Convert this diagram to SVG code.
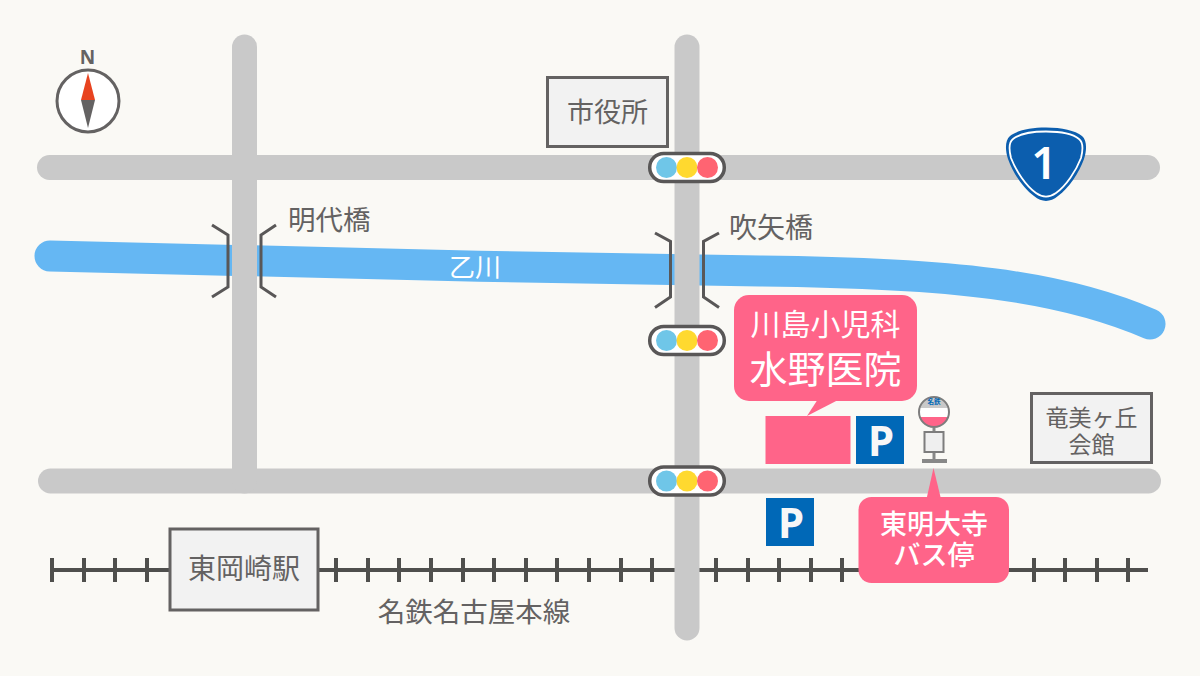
<svg xmlns="http://www.w3.org/2000/svg" width="1200" height="676" viewBox="0 0 1200 676">
<style>
.road{stroke:#c9c9c9;stroke-width:25;stroke-linecap:round;fill:none}
.t{font-family:"Noto Sans CJK JP","Noto Sans",sans-serif;fill:#646262}
.w{font-family:"Noto Sans CJK JP","Noto Sans",sans-serif;fill:#fff}
.box{fill:#f2f2f2;stroke:#646262;stroke-width:3}
.sig{fill:#fff;stroke:#595757;stroke-width:3.5}
.br{fill:none;stroke:#595757;stroke-width:3}
.pk{fill:#ff6489}
.pb{fill:#0068b7}
.tick{stroke:#4f4f4d;stroke-width:4}
</style>
<defs>
<g id="signal"><rect class="sig" x="-37.300" y="-14" width="74.600" height="28" rx="14"/><circle cx="-20.500" r="10.500" fill="#6fc6e8"/><circle cx="0" r="10.500" fill="#ffd92f"/><circle cx="20.500" r="10.500" fill="#ff6472"/></g>
<g id="parking"><rect class="pb" x="0" y="0" width="48" height="48"/><text x="25" y="40" text-anchor="middle" font-family="Noto Sans,sans-serif" font-weight="700" font-size="42" fill="#f7f7f7">P</text></g>
<clipPath id="stopface"><circle cx="934" cy="412" r="15"/></clipPath>
</defs>
<rect width="1200" height="676" fill="#faf9f5"/>
<g id="river"><path d="M50 256 C300 262 520 268 760 271 C950 273 1060 285 1150 324" fill="none" stroke="#65b7f3" stroke-width="31" stroke-linecap="round"/><text x="475" y="277" text-anchor="middle" class="w" font-size="26">乙川</text></g>
<g id="railway">
<path d="M52 570H1148" stroke="#4f4f4d" stroke-width="4" fill="none"/>
<path class="tick" d="M52 558V582M84 558V582M115 558V582M147 558V582M336 558V582M368 558V582M399 558V582M431 558V582M463 558V582M494 558V582M526 558V582M557 558V582M589 558V582M621 558V582M652 558V582M684 558V582M716 558V582M748 558V582M779 558V582M811 558V582M842 558V582M1034 558V582M1065 558V582M1097 558V582M1128 558V582"/>
</g>
<g id="roads">
<path class="road" d="M49.500 167.500H1147.500"/>
<path class="road" d="M50.500 481H1148.500"/>
<path class="road" d="M244.500 47V481"/>
<path class="road" d="M687 47V628"/>
</g>
<g id="bridge-left"><path class="br" d="M212 225L228 235V287L212 297M276 225L261 235V287L276 297"/><text x="288" y="230" class="t" font-size="27.500">明代橋</text></g>
<g id="bridge-right"><path class="br" d="M655 233L670.500 241.500V297L655 307.500M719 233L703.500 241.500V297L719 307.500"/><text x="729" y="238" class="t" font-size="28">吹矢橋</text></g>
<g id="signal-1"><use href="#signal" x="687" y="167.500"/></g>
<g id="signal-2"><use href="#signal" x="687" y="340.500"/></g>
<g id="signal-3"><use href="#signal" x="687" y="481"/></g>
<g id="compass"><text x="87.500" y="64" text-anchor="middle" font-family="Noto Sans,sans-serif" font-weight="700" font-size="19" fill="#646262">N</text><circle cx="88" cy="101" r="31" fill="#fff" stroke="#646262" stroke-width="3"/><path d="M88 73L95 100H81Z" fill="#e8431f"/><path d="M81 100H95L88 128Z" fill="#646262"/></g>
<g id="city-hall"><rect class="box" x="547.500" y="77.500" width="120" height="69"/><text x="607.500" y="122" text-anchor="middle" class="t" font-size="27">市役所</text></g>
<g id="route-1"><path d="M1046 127.500C1062 127.500 1075 130.500 1082 136C1087 140 1087 150 1084 159C1079 173 1069 188 1058 196C1050 202.500 1042 202.500 1034 196C1023 188 1013 173 1008 159C1005 150 1005 140 1010 136C1017 130.500 1030 127.500 1046 127.500Z" fill="#0c5eae"/><path d="M1046 131.500C1061 131.500 1073 134 1079 139C1083 142 1083 150 1081 158C1076 171 1066 186 1056 193C1049 198 1043 198 1036 193C1026 186 1016 171 1011 158C1009 150 1009 142 1013 139C1019 134 1031 131.500 1046 131.500Z" fill="none" stroke="#fff" stroke-width="1.800"/><text x="1044" y="179" text-anchor="middle" font-family="Noto Sans,sans-serif" font-weight="600" font-size="45" fill="#fff">1</text></g>
<g id="clinic-label"><rect x="734" y="295" width="183" height="106" rx="15" class="pk"/><path d="M818 399H840L807 416Z" class="pk"/><text x="825.500" y="335" text-anchor="middle" class="w" font-size="30">川島小児科</text><text x="825.500" y="383" text-anchor="middle" class="w" font-size="38">水野医院</text></g>
<g id="clinic"><rect x="765.500" y="416" width="85" height="48" class="pk"/></g>
<g id="parking-1"><use href="#parking" x="856" y="416"/></g>
<g id="parking-2"><use href="#parking" x="766" y="498"/></g>
<g id="bus-stop"><path d="M934 428V460" stroke="#888" stroke-width="3"/><rect x="922" y="459" width="25" height="4" fill="#888"/><g clip-path="url(#stopface)"><rect x="917" y="396" width="34" height="12" fill="#c9c9c9"/><rect x="917" y="408" width="34" height="9" fill="#fff"/><rect x="917" y="417" width="34" height="12" class="pk"/></g><circle cx="934" cy="412" r="15" fill="none" stroke="#7d7d7d" stroke-width="2"/><text x="934" y="404" text-anchor="middle" font-family="Noto Sans CJK JP,sans-serif" font-weight="700" font-size="6.500" fill="#0068b7">名鉄</text><rect x="924.500" y="432" width="19" height="20" fill="#efefef" stroke="#7d7d7d" stroke-width="2"/></g>
<g id="busstop-label"><path d="M933.500 468L941 499H926.500Z" class="pk"/><rect x="858.500" y="497" width="150.500" height="86" rx="13" class="pk"/><text text-anchor="middle" class="w" font-size="27" font-weight="500"><tspan x="934" y="534">東明大寺</tspan><tspan x="934" y="565">バス停</tspan></text></g>
<g id="hall"><rect class="box" x="1031.500" y="393.500" width="120" height="69" stroke-width="2.500"/><text text-anchor="middle" class="t" font-size="23"><tspan x="1091.500" y="426">竜美ヶ丘</tspan><tspan x="1091.500" y="453">会館</tspan></text></g>
<g id="station"><rect class="box" x="170" y="529" width="148" height="81"/><text x="244" y="579" text-anchor="middle" class="t" font-size="28">東岡崎駅</text></g>
<g id="line-label"><text x="474" y="622" text-anchor="middle" class="t" font-size="27.500">名鉄名古屋本線</text></g>
</svg>
